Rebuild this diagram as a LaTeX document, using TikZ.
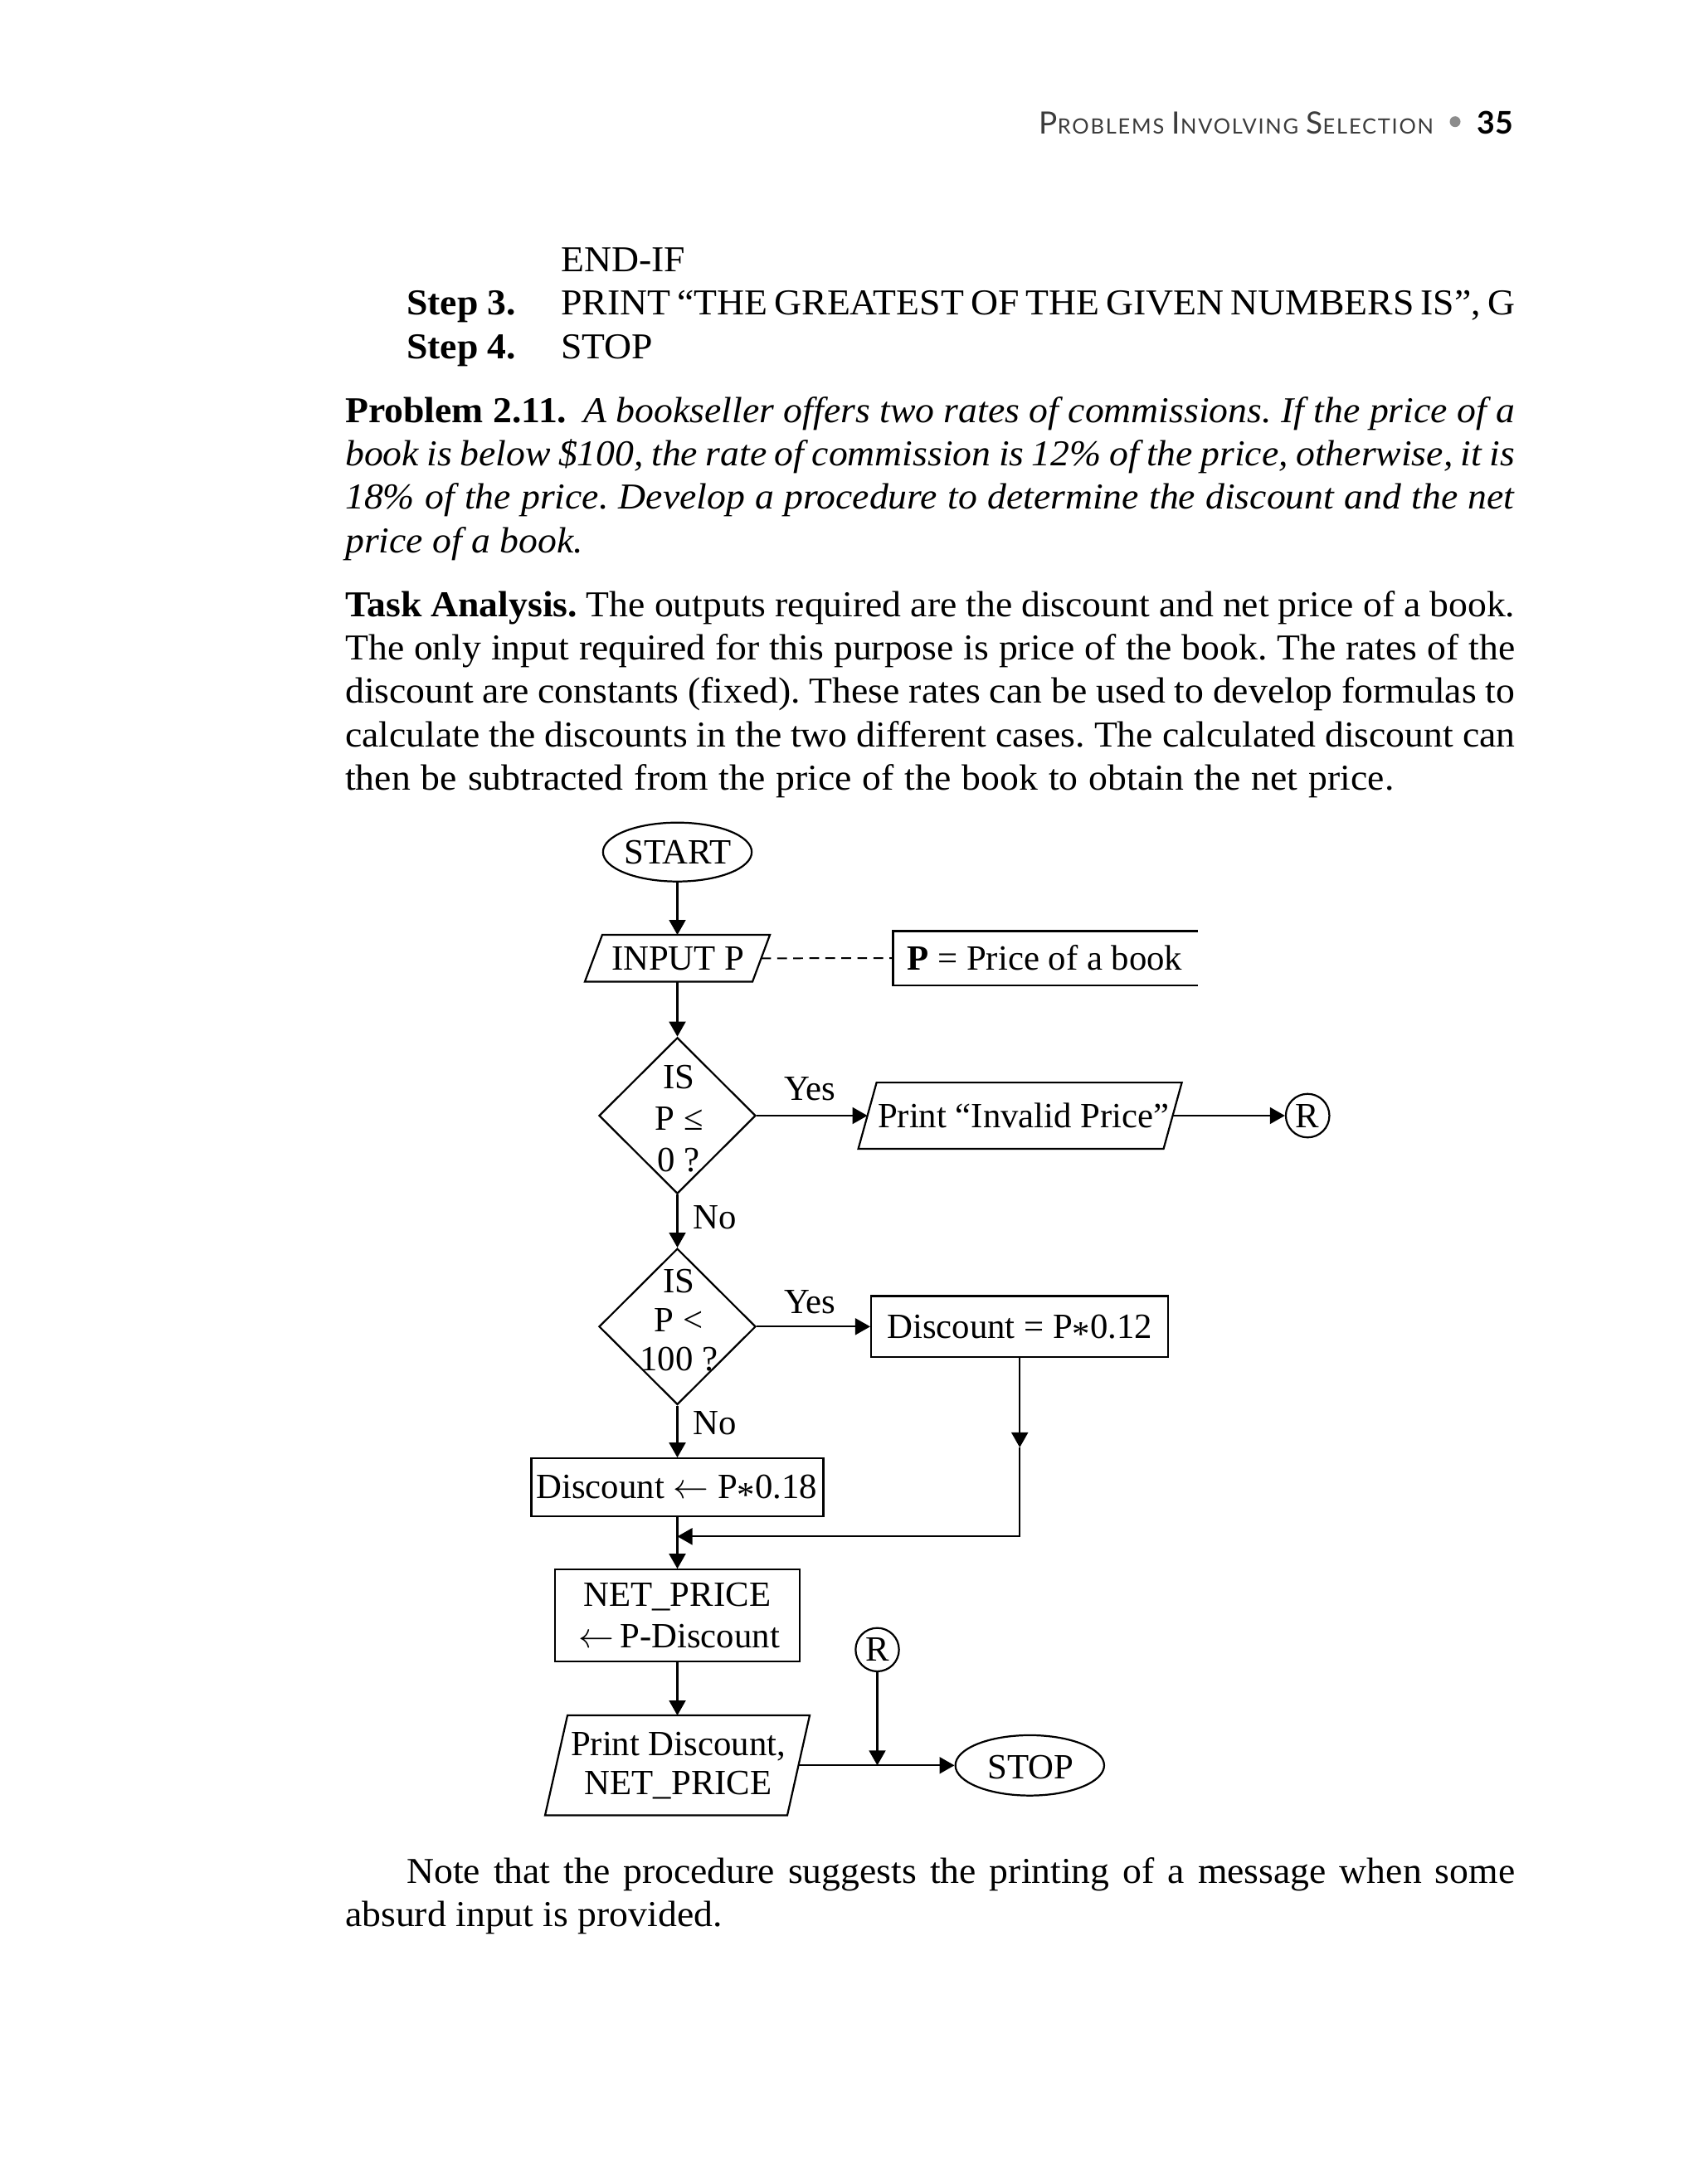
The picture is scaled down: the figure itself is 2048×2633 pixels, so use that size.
\documentclass[tikz,border=0pt]{standalone}
\usepackage{fix-cm}
\usepackage{fontspec}
\setmainfont{Liberation Serif}
\newfontfamily\bodyfam{Liberation Serif}[FakeStretch=1.04]
\newfontfamily\hdfont{Lato}
\usetikzlibrary{shapes.geometric,arrows.meta,calc}
\frenchspacing
\newcommand\uu{0.3mm}
\newcommand\fcfont{\fontsize{36.5pt}{44pt}\selectfont}
\newcommand\bdfont{\bodyfam\fontsize{37.5pt}{44.6pt}\selectfont}
\newcommand\astk{\raisebox{-0.22em}{*}}
\newcommand\larr{$\leftarrow$}
\newcommand\hB[1]{{\fontsize{31.6pt}{36pt}\selectfont #1}}
\newcommand\hS[1]{{\fontsize{21.7pt}{26pt}\selectfont\addfontfeature{LetterSpace=7}#1}}
\definecolor{hdgray}{HTML}{3C3C3C}
\definecolor{bulgray}{HTML}{8C8C8C}
\tikzset{
  lw/.style={line width=1.9pt},
  arr/.style={line width=1.9pt,-{Triangle[length=15.4pt,width=17pt]}},
  shp/.style={draw,line width=1.9pt,inner sep=0pt},
  ghost/.style={draw=none,inner sep=0pt},
  txt/.style={inner sep=0pt,font=\fcfont,anchor=base},
  lbl/.style={inner sep=0pt,font=\fcfont,anchor=base west},
  body/.style={inner sep=0pt,font=\bdfont,anchor=base west},
}
\begin{document}
\begin{tikzpicture}[x=0.3mm,y=-0.3mm]
\fill[white] (0,0) rectangle (2048,2633);
\useasboundingbox (0,0) rectangle (2048,2633);

% ---------- header ----------
\node[inner sep=0pt,anchor=base east,text=hdgray] (hdr) at (1728.3,161.7)
  {\hdfont\fontsize{31.6pt}{36pt}\selectfont \hB{P}\hS{ROBLEMS} \hB{I}\hS{NVOLVING} \hB{S}\hS{ELECTION}};
\fill[bulgray] (1754,146.7) circle[radius=1.95mm];
\node[inner sep=0pt,anchor=base west] (pg) at (1780,161.7)
  {\hdfont\bfseries\fontsize{32pt}{36pt}\selectfont 35};

% ---------- body text ----------
\node[body] (e1) at (676,327.3) {END-IF};
\node[body] (s3) at (490,379.3) {\textbf{Step 3.}};
\node[body] (s3t) at (676,379.3) {\makebox[345mm][s]{PRINT “THE GREATEST OF THE GIVEN NUMBERS IS”, G}};
\node[body] (s4) at (490,432.5) {\textbf{Step 4.}};
\node[body] (s4t) at (676,432.5) {STOP};

\node[body] (p1) at (416,509.3) {\makebox[423mm][s]{\textbf{Problem 2.11.}\hspace{0.2em} \textit{A bookseller offers two rates of commissions. If the price of a}}};
\node[body] (p2) at (416,561.5) {\makebox[423mm][s]{\textit{book is below \$100, the rate of commission is 12\% of the price, otherwise, it is}}};
\node[body] (p3) at (416,613.7) {\makebox[423mm][s]{\textit{18\% of the price. Develop a procedure to determine the discount and the net}}};
\node[body] (p4) at (416,666) {\textit{price of a book.}};

\node[body] (t1) at (416,743.3) {\makebox[423mm][s]{\textbf{Task Analysis.} The outputs required are the discount and net price of a book.}};
\node[body] (t2) at (416,795.5) {\makebox[423mm][s]{The only input required for this purpose is price of the book. The rates of the}};
\node[body] (t3) at (416,847.7) {\makebox[423mm][s]{discount are constants (fixed). These rates can be used to develop formulas to}};
\node[body] (t4) at (416,900) {\makebox[423mm][s]{calculate the discounts in the two different cases. The calculated discount can}};
\node[body] (t5) at (416,952.2) {\makebox[379.2mm][s]{then be subtracted from the price of the book to obtain the net price.}};

\node[body] (n1) at (490,2270) {\makebox[400.8mm][s]{Note that the procedure suggests the printing of a message when some}};
\node[body] (n2) at (416,2322) {absurd input is provided.};

% ---------- flowchart shapes ----------
\node[shp,ellipse,minimum width=179.3*\uu,minimum height=71*\uu] (start) at (816.5,1027.2) {};
\node[ghost,minimum width=201.6*\uu,minimum height=56*\uu] (input) at (816.5,1155.3) {};
\draw[lw] ([xshift=10.5*\uu]input.north west) -- ([xshift=10.5*\uu]input.north east)
  -- ([xshift=-10.5*\uu]input.south east) -- ([xshift=-10.5*\uu]input.south west) -- cycle;
\node[ghost,minimum width=366.6*\uu,minimum height=64.8*\uu] (note) at (1260,1155.1) {};
\draw[lw] (note.north east) -- (note.north west) -- (note.south west) -- (note.south east);

\node[shp,diamond,minimum width=189*\uu,minimum height=188.3*\uu] (d1) at (816.5,1345) {};
\node[ghost,minimum width=367.5*\uu,minimum height=79.3*\uu] (invalid) at (1229.6,1345) {};
\draw[lw] ([xshift=11*\uu]invalid.north west) -- ([xshift=11*\uu]invalid.north east)
  -- ([xshift=-11*\uu]invalid.south east) -- ([xshift=-11*\uu]invalid.south west) -- cycle;
\node[shp,circle,minimum size=52.5*\uu,font=\fcfont] (r1) at (1576.2,1345) {R};

\node[shp,diamond,minimum width=189*\uu,minimum height=188.3*\uu] (d2) at (816.5,1599.3) {};
\node[shp,rectangle,minimum width=358.3*\uu,minimum height=73.7*\uu] (disc12) at (1229.2,1599.3) {};
\node[shp,rectangle,minimum width=352*\uu,minimum height=70*\uu] (disc18) at (816.5,1793.3) {};
\node[shp,rectangle,minimum width=294.7*\uu,minimum height=110.3*\uu] (net) at (816.5,1947.5) {};
\node[shp,circle,minimum size=52.3*\uu,font=\fcfont] (r2) at (1057.5,1988.8) {R};
\node[ghost,minimum width=291.5*\uu,minimum height=120*\uu] (print) at (816.5,2128.3) {};
\draw[lw] ([xshift=13.5*\uu]print.north west) -- ([xshift=13.5*\uu]print.north east)
  -- ([xshift=-13.5*\uu]print.south east) -- ([xshift=-13.5*\uu]print.south west) -- cycle;
\node[shp,ellipse,minimum width=179.3*\uu,minimum height=72.7*\uu] (stop) at (1241.3,2128.3) {};

% ---------- flowchart texts ----------
\node[txt] (tstart) at (817,1041.7) {START};
\node[txt] (tinput) at (817.2,1169.3) {INPUT P};
\node[lbl] (tnote) at (1093.3,1169.3) {\textbf{P} = Price of a book};
\node[txt] (td1a) at (818.3,1312.3) {IS};
\node[txt] (td1b) at (818.7,1362.3) {P ≤};
\node[txt] (td1c) at (817.8,1412.3) {0 ?};
\node[lbl] (tyes1) at (945,1326.7) {Yes};
\node[txt] (tinv) at (1233.8,1359) {Print “Invalid Price”};
\node[lbl] (tno1) at (835,1481.7) {No};
\node[txt] (td2a) at (818.3,1558.3) {IS};
\node[txt] (td2b) at (818,1605) {P <};
\node[txt] (td2c) at (818.3,1652.3) {100 ?};
\node[lbl] (tyes2) at (945,1583.3) {Yes};
\node[txt] (td12) at (1229.2,1613.3) {Discount = P\astk0.12};
\node[lbl] (tno2) at (835,1729.3) {No};
\node[txt] (td18) at (815.8,1806.7) {Discount \larr{} P\astk0.18};
\node[txt] (tnet1) at (816.3,1936.7) {NET\_PRICE};
\node[txt] (tnet2) at (818.8,1986.7) {\larr\,P-Discount};
\node[txt] (tpr1) at (817.5,2116.7) {Print Discount,};
\node[txt] (tpr2) at (817.7,2163.3) {NET\_PRICE};
\node[txt] (tstop) at (1242.3,2144.3) {STOP};

% ---------- connectors ----------
\draw[arr] (start.south) -- (input.north);
\draw[lw,line width=1.7pt,dash pattern=on 10pt off 6.5pt] (input.east) -- (note.west);
\draw[arr] (input.south) -- (d1.north);
\draw[arr] (d1.east) -- (invalid.west);
\draw[arr] (invalid.east) -- (r1.west);
\draw[arr] (d1.south) -- (d2.north);
\draw[arr] (d2.east) -- (disc12.west);
\coordinate (m1) at (1229.2,1745);
\coordinate (mg) at (816.5,1852.3);
\draw[arr] (disc12.south) -- (m1);
\draw[arr] (m1) |- (mg);
\draw[arr] (d2.south) -- (disc18.north);
\draw[arr] (disc18.south) -- (net.north);
\draw[arr] (net.south) -- (print.north);
\draw[arr] (print.east) -- (stop.west);
\coordinate (jn) at (r2.south |- print.east);
\draw[arr] (r2.south) -- (jn);
\end{tikzpicture}
\end{document}
